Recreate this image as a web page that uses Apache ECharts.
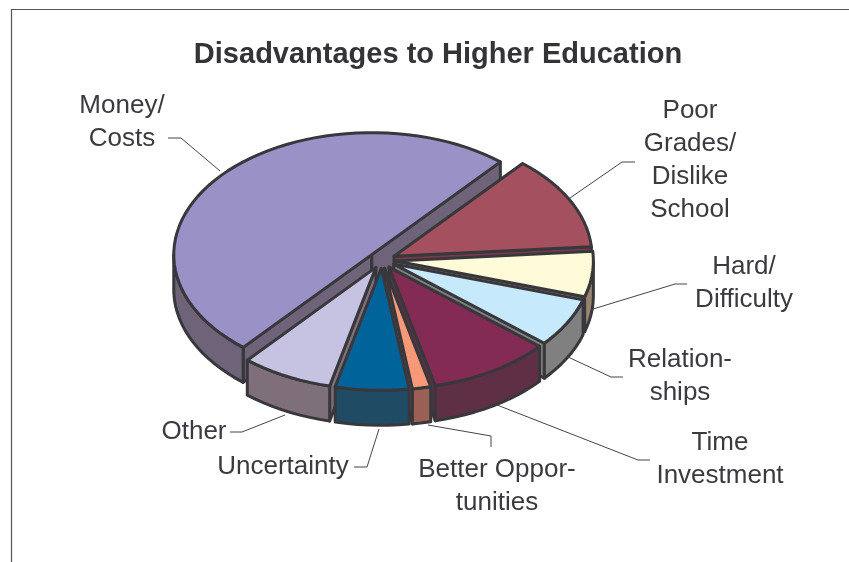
<!DOCTYPE html>
<html>
<head>
<meta charset="utf-8">
<style>html,body{margin:0;padding:0;background:#fff}#chart{width:849px;height:562px}</style>
<script src="https://cdn.jsdelivr.net/npm/echarts@6/dist/echarts.min.js"></script>
</head>
<body>
<div id="chart"></div>
<script>
// Reasons given against continuing in higher education, percent of responses.
const chartTitle = 'Disadvantages to Higher Education';
const categories = [
  'Money/\nCosts', 'Poor\nGrades/\nDislike\nSchool', 'Hard/\nDifficulty', 'Relation-\nships',
  'Time\nInvestment', 'Better Oppor-\ntunities', 'Uncertainty', 'Other'
];
const shares = [50, 12.5, 6, 6.5, 10, 1.5, 6, 7.5];

const topColors = ['#9A91C6', '#A5505F', '#FFFAD8', '#C6E9FB', '#832A55', '#F79878', '#00649A', '#C6C3E2'];
const wallColors = ['#6E6378', '#7A3A4A', '#97836E', '#808080', '#5F3045', '#9A5F55', '#1F4C64', '#7F6F7A'];

// Label anchors and leader lines, one entry per category.
const labelAnchors = [[122, 122], [690, 160], [744, 283], [680, 376], [720, 459], [497, 486], [283, 467], [194, 432]];
const leaders = [
  [[168, 138], [181, 138], [220, 171]],
  [[570, 198], [622, 162], [635, 162]],
  [[593, 309], [675, 284], [687, 284]],
  [[568, 357], [611, 377], [623, 377]],
  [[497, 405], [638, 460], [650, 460]],
  [[428, 425], [491, 436], [491, 447]],
  [[354, 467], [367, 467], [379, 429]],
  [[230, 432], [242, 432], [285, 415]]
];

// Tilted-disc projection used for the 3D pie; angles run clockwise from twelve o'clock.
const disc = { cx: 382, cy: 260, rx: 198, ry: 122, depth: 35, explode: 0.068, startAngle: 220.5 };
const outline = '#38383C';
const ink = '#3A3A40';
const toRad = Math.PI / 180;

const total = shares.reduce((a, b) => a + b, 0);
const project = (deg, r, ox, oy, drop) => [
  ox + disc.rx * r * Math.sin(deg * toRad),
  oy - disc.ry * r * Math.cos(deg * toRad) + (drop || 0)
];

function wallQuad(deg, ox, oy) {
  return [project(deg, 0, ox, oy), project(deg, 1, ox, oy), project(deg, 1, ox, oy, disc.depth), project(deg, 0, ox, oy, disc.depth)];
}

function renderSlice(params, api) {
  const i = params.dataIndex;
  const before = shares.slice(0, i).reduce((a, b) => a + b, 0);
  let a0 = disc.startAngle + before / total * 360;
  if (a0 >= 360) a0 -= 360;
  const a1 = a0 + api.value(1) / total * 360;
  const mid = (a0 + a1) / 2;
  const ox = disc.cx + disc.rx * disc.explode * Math.sin(mid * toRad);
  const oy = disc.cy - disc.ry * disc.explode * Math.cos(mid * toRad);
  // Slices nearer the viewer are painted later.
  const z = 200 - Math.abs(mid - 180);
  const stroke = { stroke: outline, lineWidth: 3, lineJoin: 'round' };
  const wall = Object.assign({ fill: wallColors[i] }, stroke);
  const children = [];

  // Radial faces, kept only when they turn towards the viewer.
  if (Math.cos((a0 - 90) * toRad) < 0) {
    children.push({ type: 'polygon', z2: z, shape: { points: wallQuad(a0, ox, oy) }, style: wall });
  }
  if (Math.cos((a1 + 90) * toRad) < 0) {
    children.push({ type: 'polygon', z2: z, shape: { points: wallQuad(a1, ox, oy) }, style: wall });
  }

  // Rim face along the front half of the disc.
  const f0 = Math.max(a0, 90), f1 = Math.min(a1, 270);
  if (f1 > f0) {
    const upper = [], lower = [];
    for (let d = f0; ; d += 3) {
      const t = Math.min(d, f1);
      upper.push(project(t, 1, ox, oy));
      lower.unshift(project(t, 1, ox, oy, disc.depth));
      if (t >= f1) break;
    }
    children.push({ type: 'polygon', z2: z + 0.1, shape: { points: upper.concat(lower) }, style: wall });
  }

  // Top face.
  const top = [project(a0, 0, ox, oy)];
  for (let d = a0; ; d += 3) {
    const t = Math.min(d, a1);
    top.push(project(t, 1, ox, oy));
    if (t >= a1) break;
  }
  children.push({
    type: 'polygon', z2: z + 0.2, shape: { points: top },
    style: Object.assign({ fill: topColors[i] }, stroke)
  });

  // Leader and category label.
  children.push({
    type: 'polyline', z2: 500, shape: { points: leaders[i] },
    style: { stroke: '#45454A', lineWidth: 1, fill: null }
  });
  children.push({
    type: 'text', z2: 501,
    style: {
      text: categories[api.value(0)], x: labelAnchors[i][0], y: labelAnchors[i][1],
      align: 'center', verticalAlign: 'middle', fontSize: 26, lineHeight: 33,
      fontFamily: '"Liberation Sans", Arial, sans-serif', fill: ink
    }
  });
  return { type: 'group', children };
}

const chart = echarts.init(document.getElementById('chart'), null, { renderer: 'canvas' });
chart.setOption({
  animation: false,
  backgroundColor: '#fff',
  title: {
    text: chartTitle, left: 433, top: 50, textAlign: 'center', textVerticalAlign: 'middle',
    textStyle: { fontFamily: '"Liberation Sans", Arial, sans-serif', fontSize: 29, fontWeight: 'bold', color: '#333338' }
  },
  graphic: [{
    type: 'polyline', silent: true,
    shape: { points: [[11.5, 562], [11.5, 9.5], [849, 9.5]] },
    style: { stroke: '#555', lineWidth: 1.2, fill: null }
  }],
  series: [{
    type: 'custom',
    coordinateSystem: 'none',
    renderItem: renderSlice,
    data: shares.map((v, i) => ({ name: categories[i], value: [i, v] })),
    silent: true
  }]
});
</script>
</body>
</html>
